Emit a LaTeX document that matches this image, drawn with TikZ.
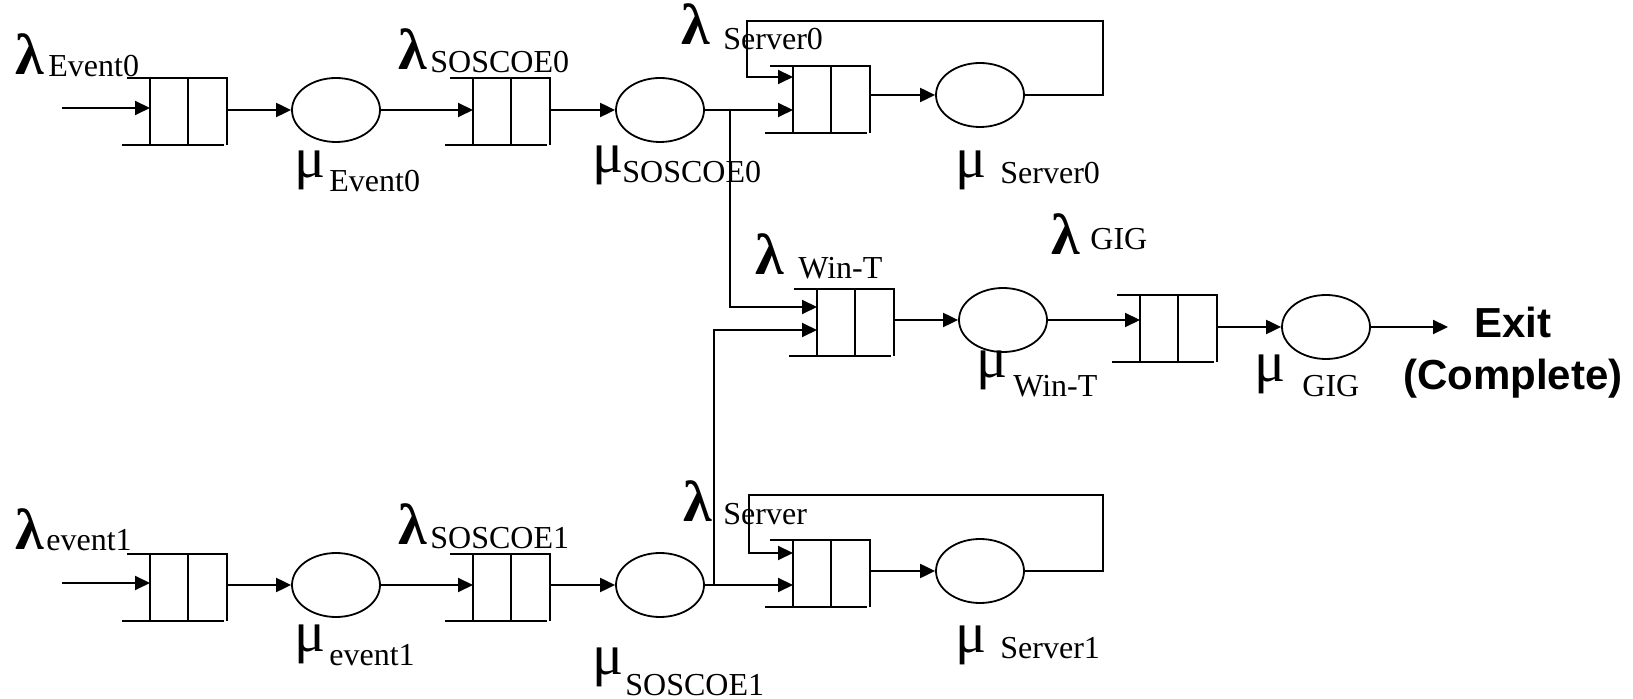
\documentclass[tikz,border=0pt]{standalone}
\usepackage{fontspec}
\setmainfont{Liberation Serif}
\newfontfamily\exitfont{Liberation Sans}
\usetikzlibrary{arrows.meta,shapes.geometric,calc}
\newcommand\mkqueue[3]{%
  \node[qn] (#1) at (#2,#3) {};
  \draw[ln] ([xshift=-11.5pt]#1.north west) -- (#1.north east) -- (#1.south east);
  \draw[ln] ([xshift=-1.5pt]#1.south east) -- ([xshift=-14pt]#1.south west);
  \draw[ln] (#1.north west) -- (#1.south west);
  \draw[ln] (#1.north) -- (#1.south);
}
\begin{document}
\begin{tikzpicture}[x=0.5pt,y=-0.5pt,
  ln/.style={line width=1pt},
  arr/.style={line width=1pt,-{Triangle[length=7.5pt,width=7pt]}},
  srv/.style={draw,ellipse,line width=0.9pt,minimum width=44pt,minimum height=32pt,inner sep=0pt},
  qn/.style={rectangle,minimum width=38pt,minimum height=33pt,inner sep=0pt,anchor=north west},
  lam/.style={inner sep=0pt,anchor=base west,font=\fontsize{29pt}{33pt}\selectfont\bfseries},
  mu/.style={inner sep=0pt,anchor=base west,font=\fontsize{29pt}{33pt}\selectfont},
  sub/.style={inner sep=0pt,anchor=base west,font=\fontsize{16pt}{19pt}\selectfont},
  exl/.style={inner sep=0pt,anchor=base,font=\exitfont\fontsize{21pt}{25pt}\selectfont\bfseries}]
\useasboundingbox (0,0) rectangle (1633,699);

% ---------- queues ----------
\mkqueue{Q1}{150}{78}
\mkqueue{Q2}{473}{78}
\mkqueue{Q3}{793}{66}
\mkqueue{Q4}{817}{289}
\mkqueue{Q5}{1140}{295}
\mkqueue{Q6}{150}{554}
\mkqueue{Q7}{473}{554}
\mkqueue{Q8}{793}{540}

% ---------- servers ----------
\node[srv] (E1) at (336,110) {};
\node[srv] (E2) at (660,110) {};
\node[srv] (E3) at (980,95) {};
\node[srv] (E4) at (1003,320) {};
\node[srv] (E5) at (1326,327) {};
\node[srv] (E6) at (336,585) {};
\node[srv] (E7) at (660,585) {};
\node[srv] (E8) at (980,571) {};

% ---------- helper coordinates ----------
\coordinate (in0) at (62,108);
\coordinate (in1) at (62,583);
\coordinate (J0) at (730,110);
\coordinate (J1) at (714,585);
\coordinate (fb0) at (1103,21);
\coordinate (fb0b) at (747,21);
\coordinate (fb1) at (1103,495);
\coordinate (fb1b) at (749,495);
\coordinate (ex) at (1448,327);

% ---------- top row ----------
\draw[arr] (in0) -- (in0 -| Q1.west);
\draw[arr] (Q1.east |- E1.west) -- (E1.west);
\draw[arr] (E1.east) -- (E1.east -| Q2.west);
\draw[arr] (Q2.east |- E2.west) -- (E2.west);
\draw[arr] (E2.east) -- (E2.east -| Q3.west);
\draw[arr] (Q3.east |- E3.west) -- (E3.west);
\draw[arr] (E3.east) -| (fb0) -- (fb0b) |- ([yshift=-5.5pt]Q3.north west);

% ---------- bottom row ----------
\draw[arr] (in1) -- (in1 -| Q6.west);
\draw[arr] (Q6.east |- E6.west) -- (E6.west);
\draw[arr] (E6.east) -- (E6.east -| Q7.west);
\draw[arr] (Q7.east |- E7.west) -- (E7.west);
\draw[arr] (E7.east) -- (E7.east -| Q8.west);
\draw[arr] (Q8.east |- E8.west) -- (E8.west);
\draw[arr] (E8.east) -| (fb1) -- (fb1b) |- ([yshift=-6.5pt]Q8.north west);

% ---------- middle ----------
\draw[arr] (J0) |- ([yshift=-9pt]Q4.north west);
\draw[arr] (J1) |- ([yshift=-20.5pt]Q4.north west);
\draw[arr] (Q4.east |- E4.west) -- (E4.west);
\draw[arr] (E4.east) -- (E4.east -| Q5.west);
\draw[arr] (Q5.east |- E5.west) -- (E5.west);
\draw[arr] (E5.east) -- (ex);

% ---------- labels ----------
\node[lam] (lE0) at (15,75) {λ};   \node[sub] (lE0s) at (48,77) {Event0};
\node[lam] (lS0) at (398,70) {λ};  \node[sub] (lS0s) at (430,73) {SOSCOE0};
\node[lam] (lV0) at (681,45) {λ};  \node[sub] (lV0s) at (723,50) {Server0};
\node[mu] (mE0) at (294,178) {μ};  \node[sub] (mE0s) at (329,192) {Event0};
\node[mu] (mS0) at (592,173) {μ};  \node[sub] (mS0s) at (622,183) {SOSCOE0};
\node[mu] (mV0) at (955,178) {μ};  \node[sub] (mV0s) at (1000,184) {Server0};
\node[lam] (lW) at (755,275) {λ};  \node[sub] (lWs) at (798,279) {Win-T};
\node[lam] (lG) at (1051,255) {λ}; \node[sub] (lGs) at (1090,250) {GIG};
\node[mu] (mW) at (976,378) {μ};   \node[sub] (mWs) at (1013,397) {Win-T};
\node[mu] (mG) at (1254,382) {μ};  \node[sub] (mGs) at (1302,397) {GIG};
\node[exl] (exit1) at (1513,338) {Exit};
\node[exl] (exit2) at (1513,390) {(Complete)};
\node[lam] (lE1) at (15,550) {λ};  \node[sub] (lE1s) at (46,551) {event1};
\node[lam] (lS1) at (398,545) {λ}; \node[sub] (lS1s) at (430,549) {SOSCOE1};
\node[lam] (lV1) at (683,522) {λ}; \node[sub] (lV1s) at (723,525) {Server};
\node[mu] (mE1) at (294,652) {μ};  \node[sub] (mE1s) at (329,665) {event1};
\node[mu] (mV1) at (955,653) {μ};  \node[sub] (mV1s) at (1000,659) {Server1};
\node[mu] (mS1) at (592,675) {μ};  \node[sub] (mS1s) at (625,695) {SOSCOE1};
\end{tikzpicture}
\end{document}
